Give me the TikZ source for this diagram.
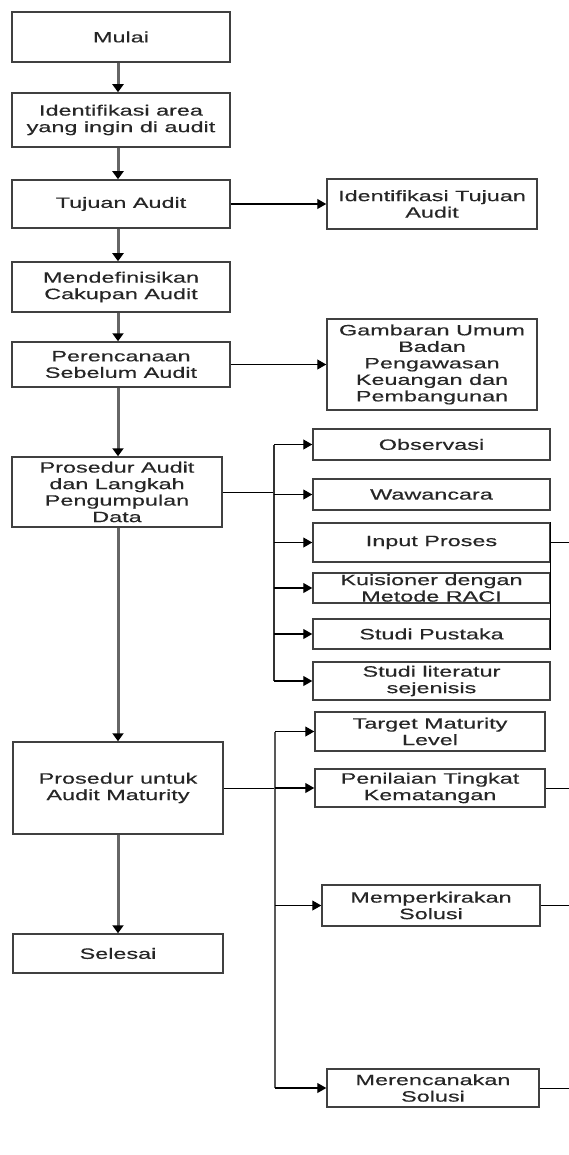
\documentclass[tikz,border=0pt]{standalone}
\usepackage{fontspec}
\setmainfont[FakeStretch=1.56,FakeBold=0.4]{Liberation Sans}
\usetikzlibrary{arrows.meta}

\tikzset{
  kotak/.style={draw=black!75, line width=1.5pt, text=black!85, align=center, inner sep=0pt,
    font=\fontsize{15}{16.5}\selectfont},
  ukuran/.style 2 args={minimum width=#1pt, minimum height=#2pt},
  garis/.style={line width=1pt},
  panah/.style={line width=1.1pt, -{Triangle[length=9pt,width=10pt]}},
  alur/.style={draw=black!60, line width=3pt, -{Triangle[length=8pt,width=11pt,color=black]}},
}

\begin{document}
\begin{tikzpicture}[x=1pt,y=-1pt]
\useasboundingbox (0,0) rectangle (569,1155);

% kolom utama
\node[kotak, ukuran={218}{50}] (mulai) at (121,37) {Mulai};
\node[kotak, ukuran={218}{54}] (identifikasi) at (121,120) {Identifikasi area\\yang ingin di audit};
\node[kotak, ukuran={218}{48}] (tujuan) at (121,204) {Tujuan Audit};
\node[kotak, ukuran={218}{50}] (cakupan) at (121,287) {Mendefinisikan\\Cakupan Audit};
\node[kotak, ukuran={218}{45}] (perencanaan) at (121,364.5) {Perencanaan\\Sebelum Audit};
\node[kotak, ukuran={210}{70}] (prosedur) at (117,492) {Prosedur Audit\\dan Langkah\\Pengumpulan\\Data};
\node[kotak, ukuran={210}{92}] (maturity) at (118,788) {Prosedur untuk\\Audit Maturity};
\node[kotak, ukuran={210}{39}] (selesai) at (118,953.5) {Selesai};

% kolom kanan
\node[kotak, ukuran={210}{50}] (idtujuan) at (432,204) {Identifikasi Tujuan\\Audit};
\node[kotak, ukuran={210}{91}] (gambaran) at (432,364.5) {Gambaran Umum\\Badan\\Pengawasan\\Keuangan dan\\Pembangunan};

\node[kotak, ukuran={237}{31}] (observasi) at (431.5,444.5) {Observasi};
\node[kotak, ukuran={237}{31}] (wawancara) at (431.5,494.5) {Wawancara};
\node[kotak, ukuran={237}{39}] (inputproses) at (431.5,542.5) {Input Proses};
\node[kotak, ukuran={237}{30}] (kuisioner) at (431.5,588) {Kuisioner dengan\\Metode RACI};
\node[kotak, ukuran={237}{30}] (pustaka) at (431.5,634) {Studi Pustaka};
\node[kotak, ukuran={237}{38}] (literatur) at (431.5,681) {Studi literatur\\sejenisis};

\node[kotak, ukuran={230}{39}] (target) at (430,731.5) {Target Maturity\\Level};
\node[kotak, ukuran={230}{38}] (penilaian) at (430,788) {Penilaian Tingkat\\Kematangan};
\node[kotak, ukuran={218}{41}] (perkiraan) at (431,905.5) {Memperkirakan\\Solusi};
\node[kotak, ukuran={212}{38}] (solusi) at (433,1088) {Merencanakan\\Solusi};

\coordinate (kol) at (118,0);
\coordinate (bus1) at (274,0);
\coordinate (bus2) at (275,0);
\coordinate (tepi) at (569,0);

% alur utama
\foreach \a/\b in {mulai/identifikasi, identifikasi/tujuan, tujuan/cakupan, cakupan/perencanaan,
  perencanaan/prosedur, prosedur/maturity, maturity/selesai}
  \draw[alur] (\a.south -| kol) -- (\b.north -| kol);

\draw[panah] (tujuan.east) -- (idtujuan.west);
\draw[panah] (perencanaan.east) -- (gambaran.west);

% pengumpulan data
\draw[garis] (prosedur.east) -- (prosedur.east -| bus1);
\draw[line width=2.4pt, draw=black!80] (bus1 |- observasi) -- (bus1 |- literatur);
\foreach \n in {observasi, wawancara, inputproses, kuisioner, pustaka, literatur}
  \draw[panah] (bus1 |- \n) -- (\n.west);

% audit maturity
\draw[garis] (maturity.east) -- (maturity.east -| bus2);
\draw[line width=2.4pt, draw=black!65] (bus2 |- target) -- (bus2 |- solusi);
\foreach \n in {target, penilaian, perkiraan, solusi}
  \draw[panah] (bus2 |- \n) -- (\n.west);

% sambungan keluar
\draw[garis] (inputproses.north east) -- (inputproses.north east |- pustaka.south);
\foreach \n in {inputproses, penilaian, perkiraan, solusi}
  \draw[garis] (\n.east) -- (\n.east -| tepi);

\end{tikzpicture}
\end{document}
